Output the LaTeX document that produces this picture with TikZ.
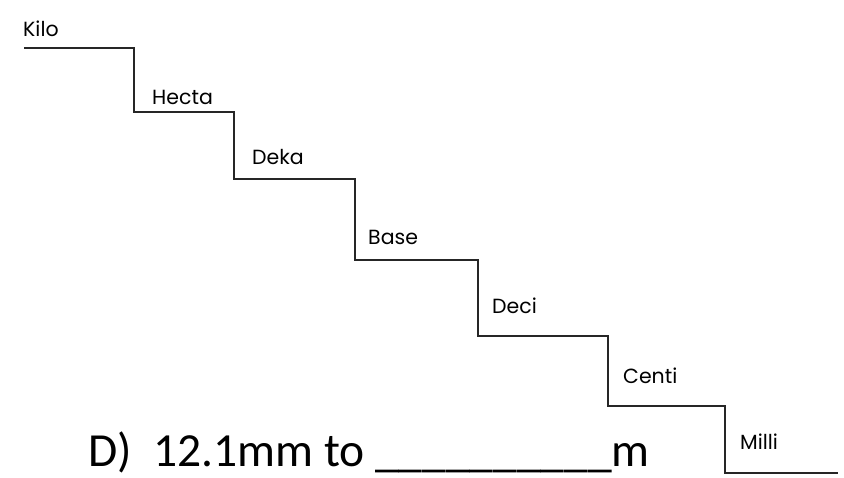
\documentclass[tikz,border=0pt]{standalone}
\usepackage{fontspec}
\setmainfont{Carlito}
\newfontfamily\labelfont{Poppins}
\begin{document}
\begin{tikzpicture}[x=1pt,y=-1pt,
  stair/.style={draw=black!85,line width=1.8pt},
  steplabel/.style={anchor=base west,inner sep=0pt,font=\labelfont\fontsize{20.5}{24}\selectfont},
  question/.style={anchor=base west,inner sep=0pt,font=\fontsize{47.5}{56}\selectfont}]
\useasboundingbox (0,0) rectangle (844,477);
\draw[stair] (24,48) -- (134,48) -- (134,112) -- (234,112) -- (234,179)
  -- (355,179) -- (355,260) -- (478,260) -- (478,336) -- (608,336)
  -- (608,406) -- (725,406) -- (725,473) -- (838,473);
\node[steplabel] (kilo) at (23,36) {Kilo};
\node[steplabel] (hecta) at (152,104) {Hecta};
\node[steplabel] (deka) at (252,164) {Deka};
\node[steplabel] (base) at (368,244) {Base};
\node[steplabel] (deci) at (492,313) {Deci};
\node[steplabel] (centi) at (623,383) {Centi};
\node[steplabel] (milli) at (740,449) {Milli};
\node[question] (q) at (88,466) {D)\ \ 12.1mm to \_\_\_\_\_\_\_\_\_\_m};
\end{tikzpicture}
\end{document}
